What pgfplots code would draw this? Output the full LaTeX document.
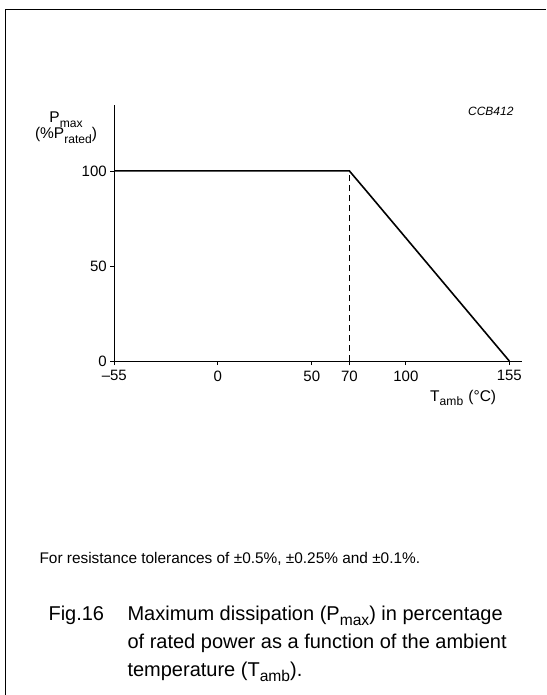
\documentclass[border=0pt]{standalone}
\usepackage{fontspec}
\setmainfont{Liberation Sans}
\usepackage{pgfplots}
\pgfplotsset{compat=1.18}
\newcommand{\fs}[1]{\fontsize{#1}{#1}\selectfont}
\newcommand{\sub}[1]{\raisebox{-0.28em}{\fontsize{0.78\dimexpr\fontdimen6\font\relax}{1em}\selectfont #1}}
\begin{document}
\begin{tikzpicture}
\useasboundingbox (0,0) rectangle (546pt,-695pt);
\draw[line width=1pt] (546pt,-10pt) -- (5pt,-10pt) -- (5pt,-695pt);
\begin{axis}[
  at={(114.3pt,-361pt)}, anchor=south west,
  scale only axis, width=407.4pt, height=256pt,
  xmin=-55, xmax=161.6, ymin=0, ymax=134.7,
  axis x line=bottom, axis y line=left,
  axis line style={-, line width=0.8pt},
  tick align=outside, major tick length=4pt,
  tick style={line width=0.8pt, black},
  xtick={-55,0,50,70,100,155},
  xticklabels={\textendash55,0,50,70,100,155},
  ytick={0,50,100},
  yticklabels={0,50,100},
  ticklabel style={font=\fs{15}},
  xticklabel style={yshift=-2pt},
  clip=false,
]
\addplot[black, line width=1.6pt] coordinates {(-55,100) (70,100) (79,89.5) (155,0)};
\addplot[black, line width=0.8pt, dash pattern=on 6pt off 4pt] coordinates {(70,0) (70,100)};
\end{axis}
\node[anchor=base, font=\fs{15.5}] at (66pt,-123pt) {P\sub{max}};
\node[anchor=base, font=\fs{15.5}] at (66pt,-139pt) {(\%P\sub{rated})};
\node[anchor=base east, font=\fs{12}\itshape] at (517pt,-116pt) {CCB412};
\node[anchor=base west, font=\fs{15.5}] at (426.7pt,-401pt) {T\sub{amb}\,\,(°C)};
\node[anchor=base west, font=\fs{15.4}] at (36pt,-563pt) {For resistance tolerances of ±0.5\%, ±0.25\% and ±0.1\%.};
\node[anchor=base west, font=\fs{20}] at (45pt,-620pt) {Fig.16};
\node[anchor=base west, font=\fs{20}] at (124pt,-620pt) {Maximum dissipation (P\sub{max}) in percentage};
\node[anchor=base west, font=\fs{20}] at (124pt,-648pt) {of rated power as a function of the ambient};
\node[anchor=base west, font=\fs{20}] at (124pt,-676pt) {temperature (T\sub{amb}).};
\end{tikzpicture}
\end{document}
